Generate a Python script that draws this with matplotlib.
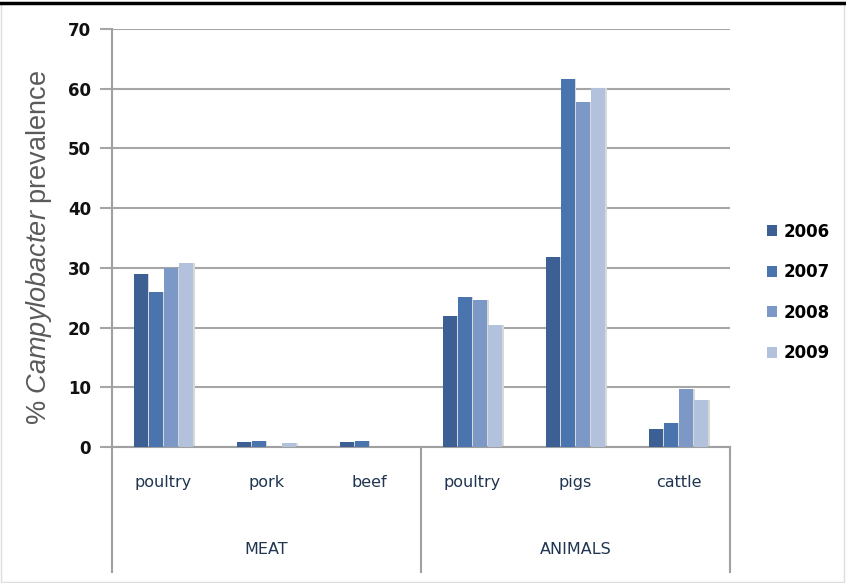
import matplotlib.pyplot as plt
import numpy as np
from matplotlib.lines import Line2D
from matplotlib.patches import Rectangle

plt.rcParams['mathtext.fontset'] = 'custom'
plt.rcParams['mathtext.it'] = 'Liberation Sans:italic'
plt.rcParams['mathtext.rm'] = 'Liberation Sans'

# data
categories = ['poultry', 'pork', 'beef', 'poultry', 'pigs', 'cattle']
groups = ['MEAT', 'ANIMALS']
years = ['2006', '2007', '2008', '2009']
v2006 = [29.0, 0.8, 0.8, 22.0, 31.9, 3.0]
v2007 = [25.9, 1.0, 1.0, 25.1, 61.6, 4.0]
v2008 = [30.0, 0.0, 0.0, 24.6, 57.7, 9.7]
v2009 = [30.8, 0.6, 0.0, 20.4, 60.1, 7.9]
colors = ['#3c6094', '#4a74ad', '#7b98c6', '#b2c2dc']

fig = plt.figure(figsize=(8.46, 5.83), dpi=100)
ax = fig.add_axes([112/846, 1 - 447/583, (730-112)/846, (447-29)/583])

x = np.arange(len(categories))
w = 0.14
gap = 0.007
series = [v2006, v2007, v2008, v2009]
for i, (vals, c) in enumerate(zip(series, colors)):
    off = (i - 1.5) * (w + gap)
    # faint shadow on the right of each bar
    ax.bar(x + off + 0.012, vals, width=w, color='#d8d8d8', zorder=2)
    ax.bar(x + off, vals, width=w, color=c, zorder=3, label=years[i])

ax.set_xlim(-0.5, len(categories) - 0.5)
ax.set_ylim(0, 70)
ax.set_yticks(range(0, 71, 10))
ax.yaxis.grid(True, color='#a6a6a6', linewidth=1.5, zorder=1)
ax.set_axisbelow(True)
for s in ['top', 'right']:
    ax.spines[s].set_visible(False)
ax.spines['left'].set_color('#a0a0a0')
ax.spines['left'].set_linewidth(1.5)
ax.spines['bottom'].set_color('#a0a0a0')
ax.spines['bottom'].set_linewidth(1.5)
ax.tick_params(axis='y', length=9, color='#a6a6a6', width=1.5, pad=6)
ax.tick_params(axis='x', length=0, labelbottom=False)
for lab in ax.get_yticklabels():
    lab.set_fontfamily('DejaVu Sans')
    lab.set_fontweight('bold')
    lab.set_fontsize(12)
    lab.set_color('#111111')

ax.set_ylabel(r'% $\it{Campylobacter}$ prevalence', fontsize=19.5,
              color='#5a5a5a', family='Liberation Sans')
ax.yaxis.set_label_coords(-0.094, 0.478)

# category and group labels below the axis
trans = ax.get_xaxis_transform()
for xi, name in zip(x, categories):
    ax.text(xi, -0.085, name, transform=trans, ha='center', va='center',
            fontsize=11.5, color='#1f3550', family='DejaVu Sans')
for gi, name in enumerate(groups):
    ax.text(1 + 3 * gi, -0.245, name, transform=trans, ha='center', va='center',
            fontsize=11.5, color='#1f3550', family='DejaVu Sans')
for xb in [-0.5, 2.5, 5.5]:
    ax.add_line(Line2D([xb, xb], [0, -0.3], transform=trans, color='#a0a0a0',
                       linewidth=1.5, clip_on=False))

leg = ax.legend(loc='center left', bbox_to_anchor=(1.035, 0.37), frameon=False,
                handlelength=0.6, handleheight=0.6, handletextpad=0.4,
                labelspacing=1.35, prop={'family': 'DejaVu Sans', 'weight': 'bold', 'size': 12})

# outer frame
fig.add_artist(Line2D([0, 1], [1 - 2.5/583, 1 - 2.5/583], transform=fig.transFigure,
                      color='black', linewidth=2.5))
fig.add_artist(Rectangle((1/846, 1/583), 1 - 3/846, 1 - 4/583, transform=fig.transFigure,
                         fill=False, edgecolor='#dddddd', linewidth=1))

plt.savefig('out.png', dpi=100)
